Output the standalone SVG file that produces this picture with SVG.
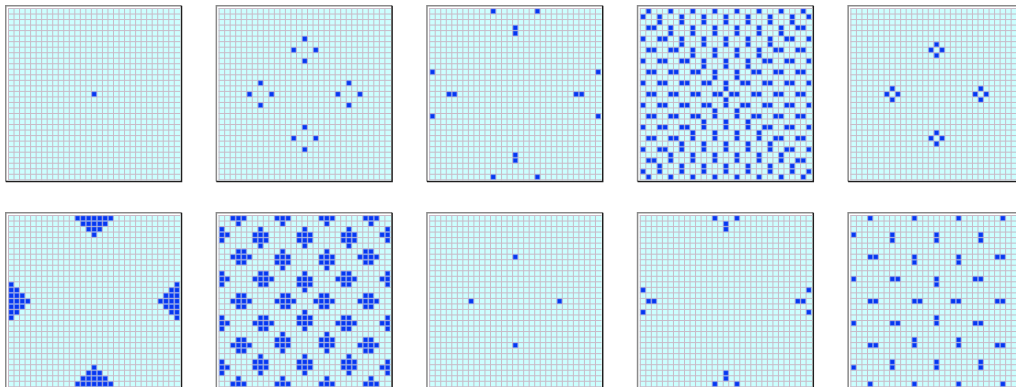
<svg xmlns="http://www.w3.org/2000/svg" xmlns:xlink="http://www.w3.org/1999/xlink" width="1016" height="387" viewBox="0 0 1016 387">
<style>
.bg{fill:#ccffff}
.gl{fill:none;stroke:#c9bac7;stroke-width:1}
.fr1{fill:none;stroke:#8a8a8a;stroke-width:1.5}
.fr2{fill:none;stroke:#1e1e1e;stroke-width:1.5}
.on{fill:#0537f2;stroke:#6f8cf2;stroke-width:.16;stroke-opacity:.6}
</style>
<defs>
<g id="grid">
<path class="fr1" d="M-2.25 173.5V-2.25H173.5"/>
<path class="fr2" d="M173.5 -2.25V173.5H-2.25"/>
<rect class="bg" width="172.3" height="172.3"/>
<path class="gl" d="M0.5 0v172.3m5.526-172.3v172.3m5.526-172.3v172.3m5.526-172.3v172.3m5.526-172.3v172.3m5.526-172.3v172.3m5.526-172.3v172.3m5.526-172.3v172.3m5.526-172.3v172.3m5.526-172.3v172.3m5.526-172.3v172.3m5.526-172.3v172.3m5.526-172.3v172.3m5.526-172.3v172.3m5.526-172.3v172.3m5.526-172.3v172.3m5.526-172.3v172.3m5.526-172.3v172.3m5.526-172.3v172.3m5.526-172.3v172.3m5.526-172.3v172.3m5.526-172.3v172.3m5.526-172.3v172.3m5.526-172.3v172.3m5.526-172.3v172.3m5.526-172.3v172.3m5.526-172.3v172.3m5.526-172.3v172.3m5.526-172.3v172.3m5.526-172.3v172.3m5.526-172.3v172.3M0 0.5h172.3m-172.3 5.526h172.3m-172.3 5.526h172.3m-172.3 5.526h172.3m-172.3 5.526h172.3m-172.3 5.526h172.3m-172.3 5.526h172.3m-172.3 5.526h172.3m-172.3 5.526h172.3m-172.3 5.526h172.3m-172.3 5.526h172.3m-172.3 5.526h172.3m-172.3 5.526h172.3m-172.3 5.526h172.3m-172.3 5.526h172.3m-172.3 5.526h172.3m-172.3 5.526h172.3m-172.3 5.526h172.3m-172.3 5.526h172.3m-172.3 5.526h172.3m-172.3 5.526h172.3m-172.3 5.526h172.3m-172.3 5.526h172.3m-172.3 5.526h172.3m-172.3 5.526h172.3m-172.3 5.526h172.3m-172.3 5.526h172.3m-172.3 5.526h172.3m-172.3 5.526h172.3m-172.3 5.526h172.3m-172.3 5.526h172.3m-172.3 5.526h172.3"/>
</g>
</defs>
<rect width="1016" height="387" fill="#ffffff"/>

<g id="panel1" transform="translate(8 8)"><use href="#grid"/>
<path class="on" transform="scale(5.526) translate(.18 .18)" d="M15 15h.82v.82h-.82z"/></g>

<g id="panel2" transform="translate(218.6 8)"><use href="#grid"/>
<path class="on" transform="scale(5.526) translate(.18 .18)" d="M15 5h.82v.82h-.82zM13 7h.82v.82h-.82zM17 7h.82v.82h-.82zM15 9h.82v.82h-.82zM7 13h.82v.82h-.82zM5 15h.82v.82h-.82zM9 15h.82v.82h-.82zM7 17h.82v.82h-.82zM23 13h.82v.82h-.82zM21 15h.82v.82h-.82zM25 15h.82v.82h-.82zM23 17h.82v.82h-.82zM15 21h.82v.82h-.82zM13 23h.82v.82h-.82zM17 23h.82v.82h-.82zM15 25h.82v.82h-.82z"/></g>

<g id="panel3" transform="translate(429.2 8)"><use href="#grid"/>
<path class="on" transform="scale(5.526) translate(.18 .18)" d="M11 0h.82v.82h-.82zM19 0h.82v.82h-.82zM15 3h.82v.82h-.82zM15 4h.82v.82h-.82zM0 11h.82v.82h-.82zM0 19h.82v.82h-.82zM3 15h.82v.82h-.82zM4 15h.82v.82h-.82zM30 11h.82v.82h-.82zM30 19h.82v.82h-.82zM26 15h.82v.82h-.82zM27 15h.82v.82h-.82zM15 26h.82v.82h-.82zM15 27h.82v.82h-.82zM11 30h.82v.82h-.82zM19 30h.82v.82h-.82z"/></g>

<g id="panel4" transform="translate(639.8 8)"><use href="#grid"/>
<path class="on" transform="scale(5.526) translate(.18 .18)" d="
M1 0h.82v.82h-.82zM5 0h.82v.82h-.82zM9 0h.82v.82h-.82zM13 0h.82v.82h-.82zM17 0h.82v.82h-.82zM21 0h.82v.82h-.82zM25 0h.82v.82h-.82zM29 0h.82v.82h-.82z
M0 1h.82v.82h-.82zM3 1h.82v.82h-.82zM7 1h.82v.82h-.82zM11 1h.82v.82h-.82zM15 1h.82v.82h-.82zM19 1h.82v.82h-.82zM23 1h.82v.82h-.82zM27 1h.82v.82h-.82zM30 1h.82v.82h-.82z
M3 2h.82v.82h-.82zM7 2h.82v.82h-.82zM11 2h.82v.82h-.82zM15 2h.82v.82h-.82zM19 2h.82v.82h-.82zM23 2h.82v.82h-.82zM27 2h.82v.82h-.82z
M1 3h.82v.82h-.82zM2 3h.82v.82h-.82zM5 3h.82v.82h-.82zM9 3h.82v.82h-.82zM13 3h.82v.82h-.82zM17 3h.82v.82h-.82zM21 3h.82v.82h-.82zM25 3h.82v.82h-.82zM28 3h.82v.82h-.82zM29 3h.82v.82h-.82z
M5 4h.82v.82h-.82zM9 4h.82v.82h-.82zM13 4h.82v.82h-.82zM17 4h.82v.82h-.82zM21 4h.82v.82h-.82zM25 4h.82v.82h-.82z
M0 5h.82v.82h-.82zM3 5h.82v.82h-.82zM4 5h.82v.82h-.82zM7 5h.82v.82h-.82zM11 5h.82v.82h-.82zM15 5h.82v.82h-.82zM19 5h.82v.82h-.82zM23 5h.82v.82h-.82zM26 5h.82v.82h-.82zM27 5h.82v.82h-.82zM30 5h.82v.82h-.82z
M7 6h.82v.82h-.82zM11 6h.82v.82h-.82zM15 6h.82v.82h-.82zM19 6h.82v.82h-.82zM23 6h.82v.82h-.82z
M1 7h.82v.82h-.82zM2 7h.82v.82h-.82zM5 7h.82v.82h-.82zM6 7h.82v.82h-.82zM9 7h.82v.82h-.82zM13 7h.82v.82h-.82zM17 7h.82v.82h-.82zM21 7h.82v.82h-.82zM24 7h.82v.82h-.82zM25 7h.82v.82h-.82zM28 7h.82v.82h-.82zM29 7h.82v.82h-.82z
M9 8h.82v.82h-.82zM13 8h.82v.82h-.82zM17 8h.82v.82h-.82zM21 8h.82v.82h-.82z
M0 9h.82v.82h-.82zM3 9h.82v.82h-.82zM4 9h.82v.82h-.82zM7 9h.82v.82h-.82zM8 9h.82v.82h-.82zM11 9h.82v.82h-.82zM15 9h.82v.82h-.82zM19 9h.82v.82h-.82zM22 9h.82v.82h-.82zM23 9h.82v.82h-.82zM26 9h.82v.82h-.82zM27 9h.82v.82h-.82zM30 9h.82v.82h-.82z
M11 10h.82v.82h-.82zM15 10h.82v.82h-.82zM19 10h.82v.82h-.82z
M1 11h.82v.82h-.82zM2 11h.82v.82h-.82zM5 11h.82v.82h-.82zM6 11h.82v.82h-.82zM9 11h.82v.82h-.82zM10 11h.82v.82h-.82zM13 11h.82v.82h-.82zM17 11h.82v.82h-.82zM20 11h.82v.82h-.82zM21 11h.82v.82h-.82zM24 11h.82v.82h-.82zM25 11h.82v.82h-.82zM28 11h.82v.82h-.82zM29 11h.82v.82h-.82z
M13 12h.82v.82h-.82zM17 12h.82v.82h-.82z
M0 13h.82v.82h-.82zM3 13h.82v.82h-.82zM4 13h.82v.82h-.82zM7 13h.82v.82h-.82zM8 13h.82v.82h-.82zM11 13h.82v.82h-.82zM12 13h.82v.82h-.82zM15 13h.82v.82h-.82zM18 13h.82v.82h-.82zM19 13h.82v.82h-.82zM22 13h.82v.82h-.82zM23 13h.82v.82h-.82zM26 13h.82v.82h-.82zM27 13h.82v.82h-.82zM30 13h.82v.82h-.82z
M15 14h.82v.82h-.82z
M1 15h.82v.82h-.82zM2 15h.82v.82h-.82zM5 15h.82v.82h-.82zM6 15h.82v.82h-.82zM9 15h.82v.82h-.82zM10 15h.82v.82h-.82zM13 15h.82v.82h-.82zM14 15h.82v.82h-.82zM16 15h.82v.82h-.82zM17 15h.82v.82h-.82zM20 15h.82v.82h-.82zM21 15h.82v.82h-.82zM24 15h.82v.82h-.82zM25 15h.82v.82h-.82zM28 15h.82v.82h-.82zM29 15h.82v.82h-.82z
M15 16h.82v.82h-.82z
M0 17h.82v.82h-.82zM3 17h.82v.82h-.82zM4 17h.82v.82h-.82zM7 17h.82v.82h-.82zM8 17h.82v.82h-.82zM11 17h.82v.82h-.82zM12 17h.82v.82h-.82zM15 17h.82v.82h-.82zM18 17h.82v.82h-.82zM19 17h.82v.82h-.82zM22 17h.82v.82h-.82zM23 17h.82v.82h-.82zM26 17h.82v.82h-.82zM27 17h.82v.82h-.82zM30 17h.82v.82h-.82z
M13 18h.82v.82h-.82zM17 18h.82v.82h-.82z
M1 19h.82v.82h-.82zM2 19h.82v.82h-.82zM5 19h.82v.82h-.82zM6 19h.82v.82h-.82zM9 19h.82v.82h-.82zM10 19h.82v.82h-.82zM13 19h.82v.82h-.82zM17 19h.82v.82h-.82zM20 19h.82v.82h-.82zM21 19h.82v.82h-.82zM24 19h.82v.82h-.82zM25 19h.82v.82h-.82zM28 19h.82v.82h-.82zM29 19h.82v.82h-.82z
M11 20h.82v.82h-.82zM15 20h.82v.82h-.82zM19 20h.82v.82h-.82z
M0 21h.82v.82h-.82zM3 21h.82v.82h-.82zM4 21h.82v.82h-.82zM7 21h.82v.82h-.82zM8 21h.82v.82h-.82zM11 21h.82v.82h-.82zM15 21h.82v.82h-.82zM19 21h.82v.82h-.82zM22 21h.82v.82h-.82zM23 21h.82v.82h-.82zM26 21h.82v.82h-.82zM27 21h.82v.82h-.82zM30 21h.82v.82h-.82z
M9 22h.82v.82h-.82zM13 22h.82v.82h-.82zM17 22h.82v.82h-.82zM21 22h.82v.82h-.82z
M1 23h.82v.82h-.82zM2 23h.82v.82h-.82zM5 23h.82v.82h-.82zM6 23h.82v.82h-.82zM9 23h.82v.82h-.82zM13 23h.82v.82h-.82zM17 23h.82v.82h-.82zM21 23h.82v.82h-.82zM24 23h.82v.82h-.82zM25 23h.82v.82h-.82zM28 23h.82v.82h-.82zM29 23h.82v.82h-.82z
M7 24h.82v.82h-.82zM11 24h.82v.82h-.82zM15 24h.82v.82h-.82zM19 24h.82v.82h-.82zM23 24h.82v.82h-.82z
M0 25h.82v.82h-.82zM3 25h.82v.82h-.82zM4 25h.82v.82h-.82zM7 25h.82v.82h-.82zM11 25h.82v.82h-.82zM15 25h.82v.82h-.82zM19 25h.82v.82h-.82zM23 25h.82v.82h-.82zM26 25h.82v.82h-.82zM27 25h.82v.82h-.82zM30 25h.82v.82h-.82z
M5 26h.82v.82h-.82zM9 26h.82v.82h-.82zM13 26h.82v.82h-.82zM17 26h.82v.82h-.82zM21 26h.82v.82h-.82zM25 26h.82v.82h-.82z
M1 27h.82v.82h-.82zM2 27h.82v.82h-.82zM5 27h.82v.82h-.82zM9 27h.82v.82h-.82zM13 27h.82v.82h-.82zM17 27h.82v.82h-.82zM21 27h.82v.82h-.82zM25 27h.82v.82h-.82zM28 27h.82v.82h-.82zM29 27h.82v.82h-.82z
M3 28h.82v.82h-.82zM7 28h.82v.82h-.82zM11 28h.82v.82h-.82zM15 28h.82v.82h-.82zM19 28h.82v.82h-.82zM23 28h.82v.82h-.82zM27 28h.82v.82h-.82z
M0 29h.82v.82h-.82zM3 29h.82v.82h-.82zM7 29h.82v.82h-.82zM11 29h.82v.82h-.82zM15 29h.82v.82h-.82zM19 29h.82v.82h-.82zM23 29h.82v.82h-.82zM27 29h.82v.82h-.82zM30 29h.82v.82h-.82z
M1 30h.82v.82h-.82zM5 30h.82v.82h-.82zM9 30h.82v.82h-.82zM13 30h.82v.82h-.82zM17 30h.82v.82h-.82zM21 30h.82v.82h-.82zM25 30h.82v.82h-.82zM29 30h.82v.82h-.82z"/></g>

<g id="panel5" transform="translate(850.4 8)"><use href="#grid"/>
<path class="on" transform="scale(5.526) translate(.18 .18)" d="M15 6h.82v.82h-.82zM14 7h.82v.82h-.82zM16 7h.82v.82h-.82zM15 8h.82v.82h-.82zM7 14h.82v.82h-.82zM6 15h.82v.82h-.82zM8 15h.82v.82h-.82zM7 16h.82v.82h-.82zM23 14h.82v.82h-.82zM22 15h.82v.82h-.82zM24 15h.82v.82h-.82zM23 16h.82v.82h-.82zM15 22h.82v.82h-.82zM14 23h.82v.82h-.82zM16 23h.82v.82h-.82zM15 24h.82v.82h-.82z"/></g>

<g id="panel6" transform="translate(8 215)"><use href="#grid"/>
<path class="on" transform="scale(5.526) translate(.18 .18)" d="
M12 0h.82v.82h-.82zM13 0h.82v.82h-.82zM14 0h.82v.82h-.82zM15 0h.82v.82h-.82zM16 0h.82v.82h-.82zM17 0h.82v.82h-.82zM18 0h.82v.82h-.82z
M13 1h.82v.82h-.82zM14 1h.82v.82h-.82zM15 1h.82v.82h-.82zM16 1h.82v.82h-.82zM17 1h.82v.82h-.82z
M14 2h.82v.82h-.82zM15 2h.82v.82h-.82zM16 2h.82v.82h-.82zM15 3h.82v.82h-.82z
M12 30h.82v.82h-.82zM13 30h.82v.82h-.82zM14 30h.82v.82h-.82zM15 30h.82v.82h-.82zM16 30h.82v.82h-.82zM17 30h.82v.82h-.82zM18 30h.82v.82h-.82z
M13 29h.82v.82h-.82zM14 29h.82v.82h-.82zM15 29h.82v.82h-.82zM16 29h.82v.82h-.82zM17 29h.82v.82h-.82z
M14 28h.82v.82h-.82zM15 28h.82v.82h-.82zM16 28h.82v.82h-.82zM15 27h.82v.82h-.82z
M0 12h.82v.82h-.82zM0 13h.82v.82h-.82zM0 14h.82v.82h-.82zM0 15h.82v.82h-.82zM0 16h.82v.82h-.82zM0 17h.82v.82h-.82zM0 18h.82v.82h-.82z
M1 13h.82v.82h-.82zM1 14h.82v.82h-.82zM1 15h.82v.82h-.82zM1 16h.82v.82h-.82zM1 17h.82v.82h-.82z
M2 14h.82v.82h-.82zM2 15h.82v.82h-.82zM2 16h.82v.82h-.82zM3 15h.82v.82h-.82z
M30 12h.82v.82h-.82zM30 13h.82v.82h-.82zM30 14h.82v.82h-.82zM30 15h.82v.82h-.82zM30 16h.82v.82h-.82zM30 17h.82v.82h-.82zM30 18h.82v.82h-.82z
M29 13h.82v.82h-.82zM29 14h.82v.82h-.82zM29 15h.82v.82h-.82zM29 16h.82v.82h-.82zM29 17h.82v.82h-.82z
M28 14h.82v.82h-.82zM28 15h.82v.82h-.82zM28 16h.82v.82h-.82zM27 15h.82v.82h-.82z"/></g>

<g id="panel7" transform="translate(218.6 215)"><use href="#grid"/>
<path class="on" transform="scale(5.526) translate(.18 .18)" d="
M2 0h.82v.82h-.82zM3 0h.82v.82h-.82zM4 0h.82v.82h-.82zM10 0h.82v.82h-.82zM11 0h.82v.82h-.82zM12 0h.82v.82h-.82zM18 0h.82v.82h-.82zM19 0h.82v.82h-.82zM20 0h.82v.82h-.82zM26 0h.82v.82h-.82zM27 0h.82v.82h-.82zM28 0h.82v.82h-.82z
M3 1h.82v.82h-.82zM11 1h.82v.82h-.82zM19 1h.82v.82h-.82zM27 1h.82v.82h-.82z
M0 2h.82v.82h-.82zM7 2h.82v.82h-.82zM15 2h.82v.82h-.82zM23 2h.82v.82h-.82zM30 2h.82v.82h-.82z
M0 3h.82v.82h-.82zM1 3h.82v.82h-.82zM6 3h.82v.82h-.82zM7 3h.82v.82h-.82zM8 3h.82v.82h-.82zM14 3h.82v.82h-.82zM15 3h.82v.82h-.82zM16 3h.82v.82h-.82zM22 3h.82v.82h-.82zM23 3h.82v.82h-.82zM24 3h.82v.82h-.82zM29 3h.82v.82h-.82zM30 3h.82v.82h-.82z
M0 4h.82v.82h-.82zM6 4h.82v.82h-.82zM7 4h.82v.82h-.82zM8 4h.82v.82h-.82zM14 4h.82v.82h-.82zM15 4h.82v.82h-.82zM16 4h.82v.82h-.82zM22 4h.82v.82h-.82zM23 4h.82v.82h-.82zM24 4h.82v.82h-.82zM30 4h.82v.82h-.82z
M7 5h.82v.82h-.82zM15 5h.82v.82h-.82zM23 5h.82v.82h-.82z
M3 6h.82v.82h-.82zM4 6h.82v.82h-.82zM11 6h.82v.82h-.82zM19 6h.82v.82h-.82zM26 6h.82v.82h-.82zM27 6h.82v.82h-.82z
M2 7h.82v.82h-.82zM3 7h.82v.82h-.82zM4 7h.82v.82h-.82zM5 7h.82v.82h-.82zM10 7h.82v.82h-.82zM11 7h.82v.82h-.82zM12 7h.82v.82h-.82zM18 7h.82v.82h-.82zM19 7h.82v.82h-.82zM20 7h.82v.82h-.82zM25 7h.82v.82h-.82zM26 7h.82v.82h-.82zM27 7h.82v.82h-.82zM28 7h.82v.82h-.82z
M3 8h.82v.82h-.82zM4 8h.82v.82h-.82zM10 8h.82v.82h-.82zM11 8h.82v.82h-.82zM12 8h.82v.82h-.82zM18 8h.82v.82h-.82zM19 8h.82v.82h-.82zM20 8h.82v.82h-.82zM26 8h.82v.82h-.82zM27 8h.82v.82h-.82z
M11 9h.82v.82h-.82zM19 9h.82v.82h-.82z
M0 10h.82v.82h-.82zM7 10h.82v.82h-.82zM8 10h.82v.82h-.82zM15 10h.82v.82h-.82zM22 10h.82v.82h-.82zM23 10h.82v.82h-.82zM30 10h.82v.82h-.82z
M0 11h.82v.82h-.82zM1 11h.82v.82h-.82zM6 11h.82v.82h-.82zM7 11h.82v.82h-.82zM8 11h.82v.82h-.82zM9 11h.82v.82h-.82zM14 11h.82v.82h-.82zM15 11h.82v.82h-.82zM16 11h.82v.82h-.82zM21 11h.82v.82h-.82zM22 11h.82v.82h-.82zM23 11h.82v.82h-.82zM24 11h.82v.82h-.82zM29 11h.82v.82h-.82zM30 11h.82v.82h-.82z
M0 12h.82v.82h-.82zM7 12h.82v.82h-.82zM8 12h.82v.82h-.82zM14 12h.82v.82h-.82zM15 12h.82v.82h-.82zM16 12h.82v.82h-.82zM22 12h.82v.82h-.82zM23 12h.82v.82h-.82zM30 12h.82v.82h-.82z
M15 13h.82v.82h-.82z
M3 14h.82v.82h-.82zM4 14h.82v.82h-.82zM11 14h.82v.82h-.82zM12 14h.82v.82h-.82zM18 14h.82v.82h-.82zM19 14h.82v.82h-.82zM26 14h.82v.82h-.82zM27 14h.82v.82h-.82z
M2 15h.82v.82h-.82zM3 15h.82v.82h-.82zM4 15h.82v.82h-.82zM5 15h.82v.82h-.82zM10 15h.82v.82h-.82zM11 15h.82v.82h-.82zM12 15h.82v.82h-.82zM13 15h.82v.82h-.82zM17 15h.82v.82h-.82zM18 15h.82v.82h-.82zM19 15h.82v.82h-.82zM20 15h.82v.82h-.82zM25 15h.82v.82h-.82zM26 15h.82v.82h-.82zM27 15h.82v.82h-.82zM28 15h.82v.82h-.82z
M3 16h.82v.82h-.82zM4 16h.82v.82h-.82zM11 16h.82v.82h-.82zM12 16h.82v.82h-.82zM18 16h.82v.82h-.82zM19 16h.82v.82h-.82zM26 16h.82v.82h-.82zM27 16h.82v.82h-.82z
M15 17h.82v.82h-.82z
M0 18h.82v.82h-.82zM7 18h.82v.82h-.82zM8 18h.82v.82h-.82zM14 18h.82v.82h-.82zM15 18h.82v.82h-.82zM16 18h.82v.82h-.82zM22 18h.82v.82h-.82zM23 18h.82v.82h-.82zM30 18h.82v.82h-.82z
M0 19h.82v.82h-.82zM1 19h.82v.82h-.82zM6 19h.82v.82h-.82zM7 19h.82v.82h-.82zM8 19h.82v.82h-.82zM9 19h.82v.82h-.82zM14 19h.82v.82h-.82zM15 19h.82v.82h-.82zM16 19h.82v.82h-.82zM21 19h.82v.82h-.82zM22 19h.82v.82h-.82zM23 19h.82v.82h-.82zM24 19h.82v.82h-.82zM29 19h.82v.82h-.82zM30 19h.82v.82h-.82z
M0 20h.82v.82h-.82zM7 20h.82v.82h-.82zM8 20h.82v.82h-.82zM15 20h.82v.82h-.82zM22 20h.82v.82h-.82zM23 20h.82v.82h-.82zM30 20h.82v.82h-.82z
M11 21h.82v.82h-.82zM19 21h.82v.82h-.82z
M3 22h.82v.82h-.82zM4 22h.82v.82h-.82zM10 22h.82v.82h-.82zM11 22h.82v.82h-.82zM12 22h.82v.82h-.82zM18 22h.82v.82h-.82zM19 22h.82v.82h-.82zM20 22h.82v.82h-.82zM26 22h.82v.82h-.82zM27 22h.82v.82h-.82z
M2 23h.82v.82h-.82zM3 23h.82v.82h-.82zM4 23h.82v.82h-.82zM5 23h.82v.82h-.82zM10 23h.82v.82h-.82zM11 23h.82v.82h-.82zM12 23h.82v.82h-.82zM18 23h.82v.82h-.82zM19 23h.82v.82h-.82zM20 23h.82v.82h-.82zM25 23h.82v.82h-.82zM26 23h.82v.82h-.82zM27 23h.82v.82h-.82zM28 23h.82v.82h-.82z
M3 24h.82v.82h-.82zM4 24h.82v.82h-.82zM11 24h.82v.82h-.82zM19 24h.82v.82h-.82zM26 24h.82v.82h-.82zM27 24h.82v.82h-.82z
M7 25h.82v.82h-.82zM15 25h.82v.82h-.82zM23 25h.82v.82h-.82z
M0 26h.82v.82h-.82zM6 26h.82v.82h-.82zM7 26h.82v.82h-.82zM8 26h.82v.82h-.82zM14 26h.82v.82h-.82zM15 26h.82v.82h-.82zM16 26h.82v.82h-.82zM22 26h.82v.82h-.82zM23 26h.82v.82h-.82zM24 26h.82v.82h-.82zM30 26h.82v.82h-.82z
M0 27h.82v.82h-.82zM1 27h.82v.82h-.82zM6 27h.82v.82h-.82zM7 27h.82v.82h-.82zM8 27h.82v.82h-.82zM14 27h.82v.82h-.82zM15 27h.82v.82h-.82zM16 27h.82v.82h-.82zM22 27h.82v.82h-.82zM23 27h.82v.82h-.82zM24 27h.82v.82h-.82zM29 27h.82v.82h-.82zM30 27h.82v.82h-.82z
M0 28h.82v.82h-.82zM7 28h.82v.82h-.82zM15 28h.82v.82h-.82zM23 28h.82v.82h-.82zM30 28h.82v.82h-.82z
M3 29h.82v.82h-.82zM11 29h.82v.82h-.82zM19 29h.82v.82h-.82zM27 29h.82v.82h-.82z
M2 30h.82v.82h-.82zM3 30h.82v.82h-.82zM4 30h.82v.82h-.82zM10 30h.82v.82h-.82zM11 30h.82v.82h-.82zM12 30h.82v.82h-.82zM18 30h.82v.82h-.82zM19 30h.82v.82h-.82zM20 30h.82v.82h-.82zM26 30h.82v.82h-.82zM27 30h.82v.82h-.82zM28 30h.82v.82h-.82z"/></g>

<g id="panel8" transform="translate(429.2 215)"><use href="#grid"/>
<path class="on" transform="scale(5.526) translate(.18 .18)" d="M15 7h.82v.82h-.82zM7 15h.82v.82h-.82zM23 15h.82v.82h-.82zM15 23h.82v.82h-.82z"/></g>

<g id="panel9" transform="translate(639.8 215)"><use href="#grid"/>
<path class="on" transform="scale(5.526) translate(.18 .18)" d="M13 0h.82v.82h-.82zM17 0h.82v.82h-.82zM15 1h.82v.82h-.82zM15 2h.82v.82h-.82zM0 13h.82v.82h-.82zM0 17h.82v.82h-.82zM1 15h.82v.82h-.82zM2 15h.82v.82h-.82zM30 13h.82v.82h-.82zM30 17h.82v.82h-.82zM29 15h.82v.82h-.82zM28 15h.82v.82h-.82zM15 28h.82v.82h-.82zM15 29h.82v.82h-.82zM13 30h.82v.82h-.82zM17 30h.82v.82h-.82z"/></g>

<g id="panel10" transform="translate(850.4 215)"><use href="#grid"/>
<path class="on" transform="scale(5.526) translate(.18 .18)" d="
M3 0h.82v.82h-.82zM11 0h.82v.82h-.82zM19 0h.82v.82h-.82zM27 0h.82v.82h-.82z
M0 3h.82v.82h-.82zM7 3h.82v.82h-.82zM15 3h.82v.82h-.82zM23 3h.82v.82h-.82zM30 3h.82v.82h-.82z
M7 4h.82v.82h-.82zM15 4h.82v.82h-.82zM23 4h.82v.82h-.82z
M3 7h.82v.82h-.82zM4 7h.82v.82h-.82zM11 7h.82v.82h-.82zM19 7h.82v.82h-.82zM26 7h.82v.82h-.82zM27 7h.82v.82h-.82z
M11 8h.82v.82h-.82zM19 8h.82v.82h-.82z
M0 11h.82v.82h-.82zM7 11h.82v.82h-.82zM8 11h.82v.82h-.82zM15 11h.82v.82h-.82zM22 11h.82v.82h-.82zM23 11h.82v.82h-.82zM30 11h.82v.82h-.82z
M15 12h.82v.82h-.82z
M3 15h.82v.82h-.82zM4 15h.82v.82h-.82zM11 15h.82v.82h-.82zM12 15h.82v.82h-.82zM18 15h.82v.82h-.82zM19 15h.82v.82h-.82zM26 15h.82v.82h-.82zM27 15h.82v.82h-.82z
M15 18h.82v.82h-.82z
M0 19h.82v.82h-.82zM7 19h.82v.82h-.82zM8 19h.82v.82h-.82zM15 19h.82v.82h-.82zM22 19h.82v.82h-.82zM23 19h.82v.82h-.82zM30 19h.82v.82h-.82z
M11 22h.82v.82h-.82zM19 22h.82v.82h-.82z
M3 23h.82v.82h-.82zM4 23h.82v.82h-.82zM11 23h.82v.82h-.82zM19 23h.82v.82h-.82zM26 23h.82v.82h-.82zM27 23h.82v.82h-.82z
M7 26h.82v.82h-.82zM15 26h.82v.82h-.82zM23 26h.82v.82h-.82z
M0 27h.82v.82h-.82zM7 27h.82v.82h-.82zM15 27h.82v.82h-.82zM23 27h.82v.82h-.82zM30 27h.82v.82h-.82z
M3 30h.82v.82h-.82zM11 30h.82v.82h-.82zM19 30h.82v.82h-.82zM27 30h.82v.82h-.82z"/></g>
</svg>
